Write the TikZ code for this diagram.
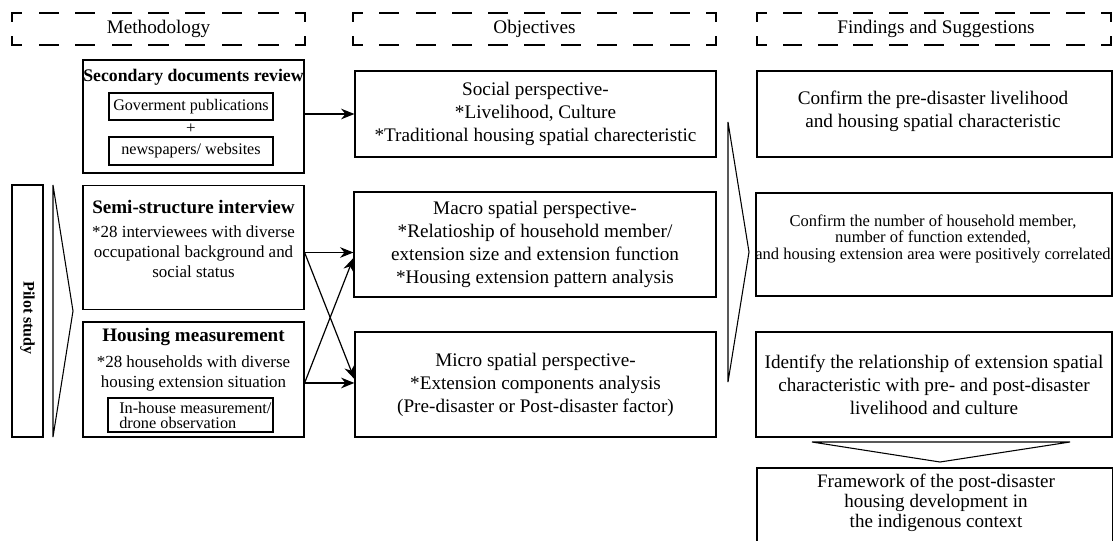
\documentclass[tikz,border=0pt]{standalone}
\usepackage{fontspec}
\setmainfont{Liberation Serif}
\usetikzlibrary{arrows.meta,calc}
\newcommand\fmain{\fontsize{14.4}{17.25}\selectfont}
\newcommand\fsmall{\fontsize{12.7}{15}\selectfont}
\newcommand\fsub{\fontsize{12.1}{14}\selectfont}
\newcommand\ftitle{\fontsize{14.3}{17}\selectfont\bfseries}
\newcommand\ftitles{\fontsize{13.3}{16}\selectfont\bfseries}
\newcommand\fpilot{\fontsize{12}{14}\selectfont\bfseries}
\newcommand\fin{\fontsize{12.2}{11.3}\selectfont}
\newcommand\fconf{\fontsize{12.4}{12.4}\selectfont}
\newcommand\ffw{\fontsize{14.3}{15}\selectfont}
% one dashed edge with half dashes at both ends (coordinates in px)
\newcommand\hdredge[4]{%
  \pgfmathsetmacro\hlen{veclen(#3-#1,#4-#2)}%
  \pgfmathsetmacro\hper{\hlen/max(1,round(\hlen/35))}%
  \pgfmathsetmacro\hon{0.52*\hper*0.75}%
  \pgfmathsetmacro\hoff{0.48*\hper*0.75}%
  \pgfmathsetmacro\hph{0.26*\hper*0.75}%
  \draw[line width=0.9pt, line cap=rect, dash pattern=on \hon pt off \hoff pt, dash phase=\hph pt] (#1,#2) -- (#3,#4);}
\newcommand\hdrframe[4]{%
  \hdredge{#1}{#2}{#3}{#2}\hdredge{#1}{#4}{#3}{#4}%
  \hdredge{#1}{#2}{#1}{#4}\hdredge{#3}{#2}{#3}{#4}}
\begin{document}
\begin{tikzpicture}[x=0.75pt,y=-0.75pt,
  box/.style={draw, line width=0.9pt, inner sep=0pt, align=center},
  hdr/.style={inner sep=0pt, minimum height=24pt, font=\fmain},
  txt/.style={align=center, inner sep=0pt},
  chev/.style={draw, line width=0.8pt, line join=miter},
  arr/.style={line width=0.9pt, -{Stealth[length=10pt,width=8pt]}}]
\useasboundingbox (0,0) rectangle (1113,540);
\clip (0,0) rectangle (1113,540);

% headers
\hdrframe{12}{13}{305}{45}
\hdrframe{353}{13}{716}{45}
\hdrframe{757}{13}{1111}{45}
\node[hdr] (hM) at (158.5,29) {Methodology};
\node[hdr] (hO) at (534.5,29) {Objectives};
\node[hdr] (hF) at (936,29) {Findings and Suggestions};

% methodology column
\node[box, minimum width=165.75pt, minimum height=84.75pt] (sec) at (193.5,116.5) {};
\node[txt, font=\ftitles] (secT) at (193.5,77) {Secondary documents review};
\node[box, font=\fsub, minimum width=123pt, minimum height=20.25pt] (gov) at (191,106.5) {Goverment publications};
\node[txt, font=\fsmall] (plus) at (191,129) {+};
\node[box, font=\fsub, minimum width=123pt, minimum height=21pt] (news) at (191,151) {newspapers/ websites};

\node[box, minimum width=23.25pt, minimum height=189pt] (pilot) at (27.5,311) {};
\node[txt, font=\fpilot, rotate=-90] (pilotT) at (27.5,318) {Pilot study};
\draw[chev] (53,185) -- (73,311) -- (53,437) -- cycle;

\node[box, minimum width=165.75pt, minimum height=93pt] (semi) at (193.5,247.5) {};
\node[txt, font=\ftitle] (semiT) at (193.5,207) {Semi-structure interview};
\node[txt, font=\fsmall] (semiB) at (193.5,251.5) {*28 interviewees with diverse\\occupational background and\\social status};

\node[box, minimum width=165.75pt, minimum height=86.25pt] (hous) at (193.5,379.5) {};
\node[txt, font=\ftitle] (housT) at (193.5,337) {Housing measurement};
\node[txt, font=\fsmall] (housB) at (193.5,373) {*28 households with diverse\\housing extension situation};
\node[box, minimum width=123.75pt, minimum height=25.5pt] (inh) at (190.5,415) {};
\node[txt, font=\fin, align=left, anchor=west] (inhT) at (119,415) {In-house measurement/\\drone observation};

% objectives column
\node[box, font=\fmain, minimum width=270.75pt, minimum height=64.5pt] (soc) at (535.5,114) {Social perspective-\\*Livelihood, Culture\\*Traditional housing spatial charecteristic};
\node[box, font=\fmain, minimum width=271.5pt, minimum height=78.75pt] (mac) at (535,244.5) {Macro spatial perspective-\\*Relatioship of household member/\\extension size and extension function\\*Housing extension pattern analysis};
\node[box, font=\fmain, minimum width=270.75pt, minimum height=78.75pt] (mic) at (535.5,384.5) {Micro spatial perspective-\\*Extension components analysis\\(Pre-disaster or Post-disaster factor)};

% findings column
\draw[chev] (728,122) -- (749,252) -- (728,382) -- cycle;
\node[box, minimum width=266.25pt, minimum height=64.5pt] (c1) at (934.5,114) {};
\node[txt, font=\fmain] (c1T) at (933,111.5) {Confirm the pre-disaster livelihood\\and housing spatial characteristic};
\node[box, minimum width=267pt, minimum height=77.25pt] (c2) at (934,244.5) {};
\node[txt, font=\fconf] (c2T) at (933,238.5) {Confirm the number of household member,\\number of function extended,\\and housing extension area were positively correlated};
\node[box, font=\fmain, minimum width=267pt, minimum height=78.75pt] (idn) at (934,384.5) {Identify the relationship of extension spatial\\characteristic with pre- and post-disaster\\livelihood and culture};
\draw[chev] (812,442) -- (1070,442) -- (940,462) -- cycle;
\node[box, minimum width=267pt, minimum height=60pt] (fw) at (935,508) {};
\node[txt, font=\ffw] (fwT) at (936,503) {Framework of the post-disaster\\housing development in\\the indigenous context};

% connectors
\draw[arr] (sec.east |- soc.west) -- (soc.west);
\coordinate (sA) at ([yshift=-3.75pt]semi.east);
\coordinate (hA) at ([yshift=-2.6pt]hous.east);
\draw[arr] (sA) -- (sA -| mac.west);
\draw[arr] (sA) -- ([yshift=4.1pt]mic.west);
\draw[arr] (hA) -- (hA -| mic.west);
\draw[arr] (hA) -- ([yshift=-10.1pt]mac.west);
\end{tikzpicture}
\end{document}
